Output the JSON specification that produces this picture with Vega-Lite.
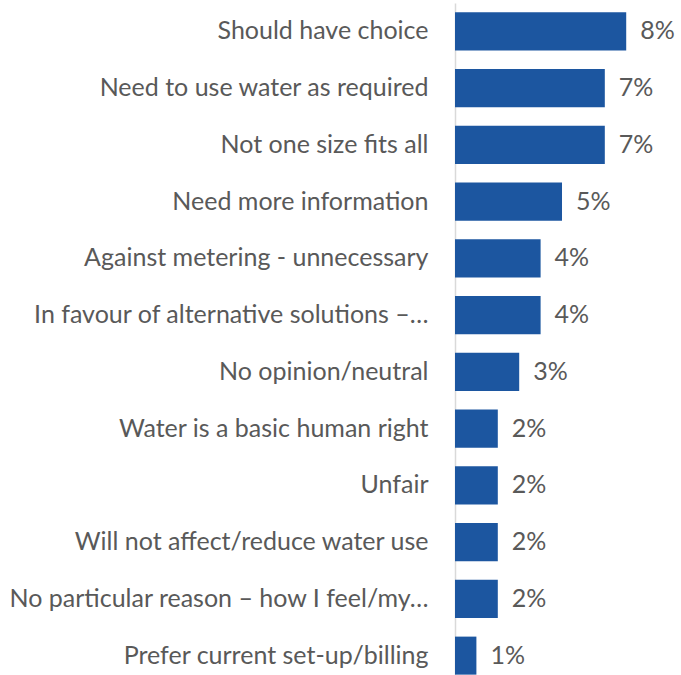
{
  "$schema": "https://vega.github.io/schema/vega-lite/v6.json",
  "autosize": "none",
  "width": 226,
  "height": 672,
  "padding": {"left": 455, "top": 3, "right": 0, "bottom": 0},
  "background": "white",
  "config": {"view": {"stroke": null}, "font": "Lato"},
  "data": {"values": [
    {"reason": "Should have choice", "pct": 0.08},
    {"reason": "Need to use water as required", "pct": 0.07},
    {"reason": "Not one size fits all", "pct": 0.07},
    {"reason": "Need more information", "pct": 0.05},
    {"reason": "Against metering - unnecessary", "pct": 0.04},
    {"reason": "In favour of alternative solutions –…", "pct": 0.04},
    {"reason": "No opinion/neutral", "pct": 0.03},
    {"reason": "Water is a basic human right", "pct": 0.02},
    {"reason": "Unfair", "pct": 0.02},
    {"reason": "Will not affect/reduce water use", "pct": 0.02},
    {"reason": "No particular reason – how I feel/my…", "pct": 0.02},
    {"reason": "Prefer current set-up/billing", "pct": 0.01}
  ]},
  "encoding": {
    "y": {"field": "reason", "type": "nominal", "sort": null,
      "scale": {"range": [0, 681], "paddingInner": 0.33, "paddingOuter": 0.165},
      "axis": {"title": null, "ticks": false, "domainColor": "#d9d9d9", "domainWidth": 1.5,
        "labelFontSize": 25, "labelColor": "#595959", "labelPadding": 27, "labelLimit": 0, "labelFont": "Lato"}},
    "x": {"field": "pct", "type": "quantitative", "scale": {"domain": [0, 0.1056]}, "axis": null}
  },
  "layer": [
    {"mark": {"type": "bar", "color": "#1c56a0"}},
    {"mark": {"type": "text", "align": "left", "baseline": "middle", "dx": 14, "fontSize": 25, "color": "#595959", "font": "Lato"},
     "encoding": {"text": {"field": "pct", "type": "quantitative", "format": ".0%"}}}
  ]
}
